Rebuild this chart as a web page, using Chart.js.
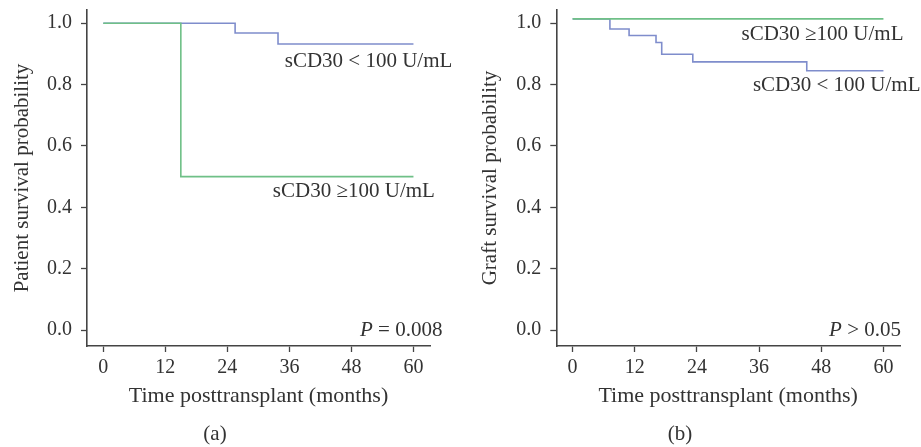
<!DOCTYPE html>
<html>
<head>
<meta charset="utf-8">
<script src="https://cdn.jsdelivr.net/npm/chart.js@4.4.1/dist/chart.umd.min.js"></script>
<style>
  html, body { margin: 0; padding: 0; background: #fff; }
  #wrap { position: relative; width: 921px; height: 447px; }
  .panel { position: absolute; top: 0; height: 447px; }
  #panelA { left: 0; width: 460px; }
  #panelB { left: 460px; width: 461px; }
</style>
</head>
<body>
<div id="wrap">
  <div class="panel" id="panelA"><canvas id="chartA"></canvas></div>
  <div class="panel" id="panelB"><canvas id="chartB"></canvas></div>
</div>
<script>
// axis ticks
const monthTicks = [0, 12, 24, 36, 48, 60];
const probTicks = [0, 0.2, 0.4, 0.6, 0.8, 1.0];

// (a) patient survival
const patientLowTime = [0, 25.5, 33.8, 60];
const patientLowSurv = [1.0, 0.968, 0.932, 0.932];
const patientHighTime = [0, 15, 60];
const patientHighSurv = [1.0, 0.5, 0.5];

// (b) graft survival
const graftLowTime = [0, 7.2, 10.9, 16.1, 17.2, 23.2, 45.2, 60];
const graftLowSurv = [1.014, 0.981, 0.960, 0.937, 0.899, 0.874, 0.845, 0.845];
const graftHighTime = [0, 60];
const graftHighSurv = [1.014, 1.014];

const lowLabel = 'sCD30 < 100 U/mL';
const highLabel = 'sCD30 \u2265100 U/mL';

const FONT = "'Liberation Serif', 'DejaVu Serif', serif";
const TEXT = '#333';
const AXIS = '#444';
const GREEN = '#6fc087';
const BLUE = '#7f8dcc';

function toPoints(xs, ys) {
    return xs.map((x, i) => ({x: x, y: ys[i]}));
}

// draws the in-plot labels, placed in data units
const notesPlugin = {
    id: 'notes',
    afterDatasetsDraw(chart, args, opts) {
        const ctx = chart.ctx;
        const xs = chart.scales.x, ys = chart.scales.y;
        ctx.save();
        ctx.fillStyle = TEXT;
        ctx.textBaseline = 'middle';
        (opts.items || []).forEach(n => {
            const px = xs.getPixelForValue(n.x);
            const py = ys.getPixelForValue(n.y);
            if (n.italic) {
                // "P" in italics, rest upright, right aligned
                ctx.font = '21px ' + FONT;
                const restW = ctx.measureText(n.rest).width;
                ctx.textAlign = 'right';
                ctx.fillText(n.rest, px, py);
                ctx.font = 'italic 21px ' + FONT;
                ctx.fillText(n.italic, px - restW, py);
            } else {
                ctx.font = '21px ' + FONT;
                ctx.textAlign = n.align || 'left';
                ctx.fillText(n.text, px, py);
            }
        });
        ctx.restore();
    }
};

// keep the plot box where the reference has it: no extra room for edge labels
function noEdgePad(s) {
    s.paddingTop = 0;
    s.paddingBottom = 0;
    s.paddingLeft = 0;
    s.paddingRight = 0;
}

function makeChart(id, cfg) {
    const ctx = document.getElementById(id).getContext('2d');
    return new Chart(ctx, {
        type: 'line',
        data: {
            datasets: [{
                label: highLabel,
                data: toPoints(cfg.highTime, cfg.highSurv),
                borderColor: GREEN,
                borderWidth: 1.6,
                stepped: true,
                pointRadius: 0,
                fill: false
            }, {
                label: lowLabel,
                data: toPoints(cfg.lowTime, cfg.lowSurv),
                borderColor: BLUE,
                borderWidth: 1.6,
                stepped: true,
                pointRadius: 0,
                fill: false
            }]
        },
        options: {
            responsive: true,
            maintainAspectRatio: false,
            animation: false,
            events: [],
            layout: { padding: { left: 0, right: cfg.padRight, top: 10, bottom: 0 } },
            plugins: {
                legend: { display: false },
                tooltip: { enabled: false },
                title: {
                    display: true,
                    position: 'bottom',
                    text: cfg.panel,
                    color: TEXT,
                    font: { family: FONT, size: 21, weight: 'normal', lineHeight: 1.2 },
                    padding: 0
                },
                notes: { items: cfg.notes }
            },
            scales: {
                x: {
                    type: 'linear',
                    min: -3.15,
                    max: 63.2,
                    afterBuildTicks: s => { s.ticks = monthTicks.map(v => ({value: v})); },
                    afterFit: s => { s.height = 75.8; noEdgePad(s); },
                    grid: { drawOnChartArea: false, tickLength: 6, color: AXIS, tickWidth: 1.3 },
                    border: { display: true, color: AXIS, width: 1.6 },
                    ticks: { color: TEXT, padding: 4, font: { family: FONT, size: 20 } },
                    title: {
                        display: true,
                        text: 'Time posttransplant (months)',
                        color: TEXT,
                        font: { family: FONT, size: 22, lineHeight: 1.2 },
                        padding: { top: 0, bottom: 12 }
                    }
                },
                y: {
                    type: 'linear',
                    min: -0.052,
                    max: 1.043,
                    afterBuildTicks: s => { s.ticks = probTicks.map(v => ({value: v})); },
                    afterFit: s => { s.width = cfg.yWidth; noEdgePad(s); },
                    grid: { drawOnChartArea: false, tickLength: 6, color: AXIS, tickWidth: 1.3 },
                    border: { display: true, color: AXIS, width: 1.6 },
                    ticks: {
                        color: TEXT,
                        padding: 9,
                        font: { family: FONT, size: 20 },
                        callback: v => v.toFixed(1)
                    },
                    title: {
                        display: true,
                        text: cfg.yTitle,
                        color: TEXT,
                        font: { family: FONT, size: 21, lineHeight: 1.2 },
                        padding: { top: cfg.yTitlePad, bottom: 0 }
                    }
                }
            }
        },
        plugins: [notesPlugin]
    });
}

makeChart('chartA', {
    panel: '(a)',
    yTitle: 'Patient survival probability',
    yWidth: 87,
    yTitlePad: 10,
    padRight: 30,
    lowTime: patientLowTime, lowSurv: patientLowSurv,
    highTime: patientHighTime, highSurv: patientHighSurv,
    notes: [
        {text: lowLabel, x: 35.1, y: 0.875},
        {text: highLabel, x: 32.8, y: 0.451},
        {italic: 'P', rest: ' = 0.008', x: 65.6, y: 0}
    ]
});

makeChart('chartB', {
    panel: '(b)',
    yTitle: 'Graft survival probability',
    yWidth: 96.3,
    yTitlePad: 17.4,
    padRight: 21,
    lowTime: graftLowTime, lowSurv: graftLowSurv,
    highTime: graftHighTime, highSurv: graftHighSurv,
    notes: [
        {text: highLabel, x: 32.6, y: 0.962},
        {text: lowLabel, x: 34.8, y: 0.796},
        {italic: 'P', rest: ' > 0.05', x: 63.4, y: 0}
    ]
});
</script>
</body>
</html>
